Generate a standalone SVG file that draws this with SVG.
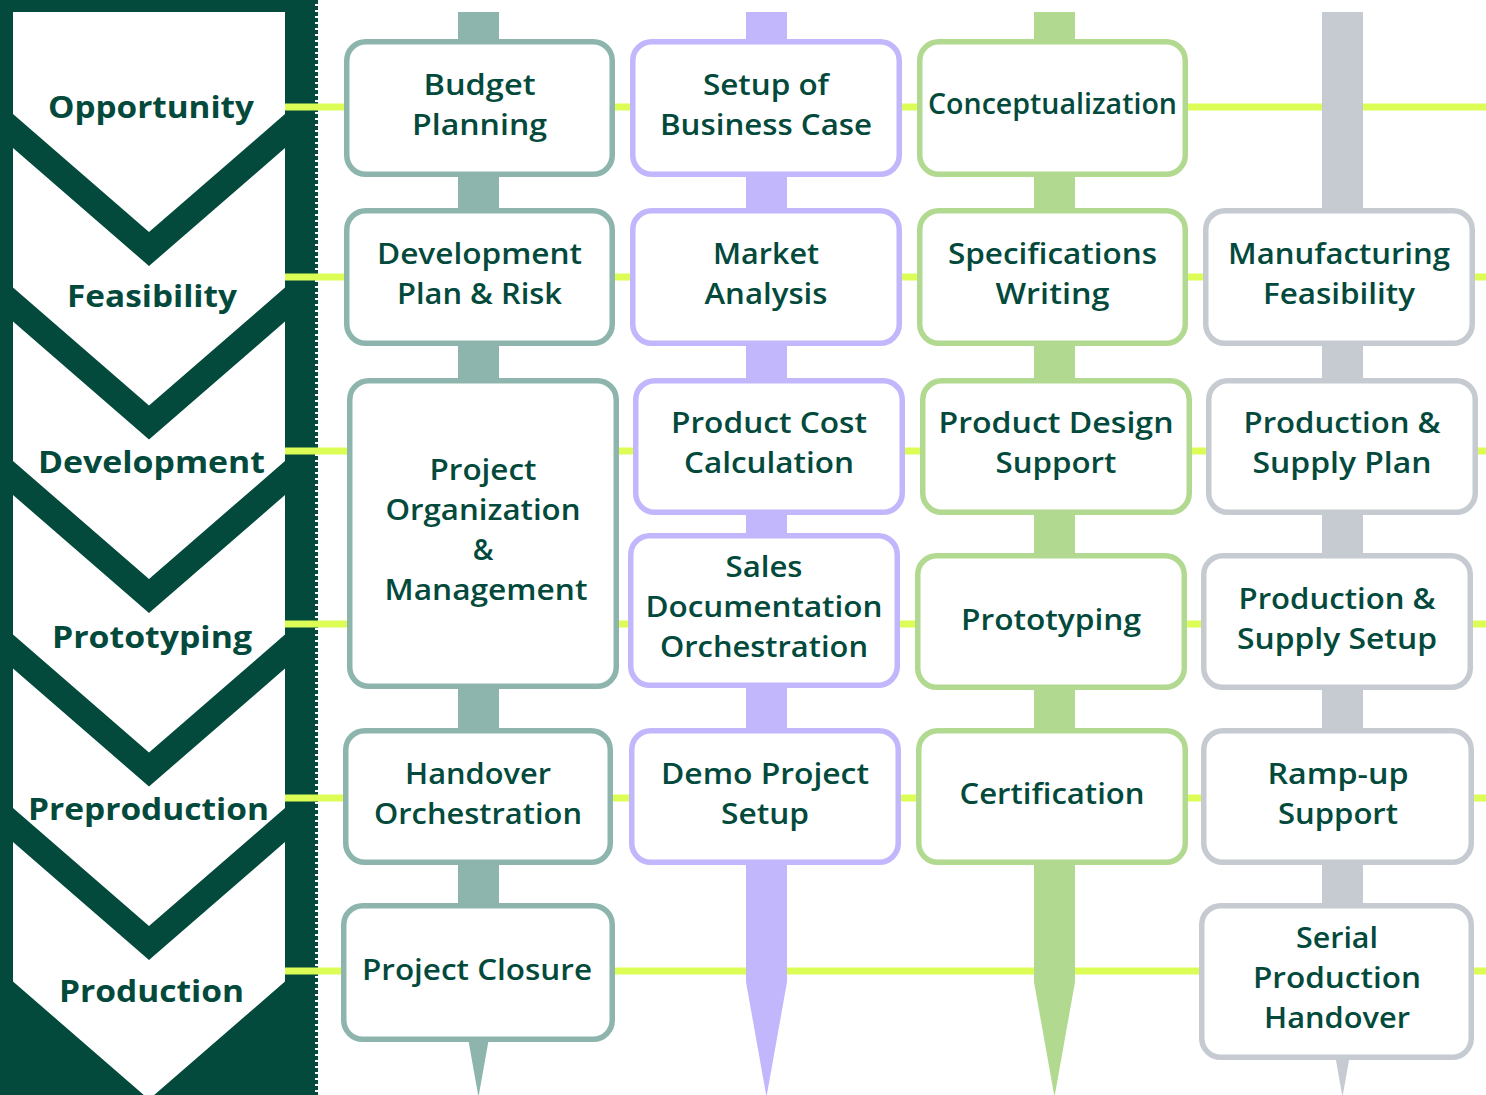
<svg xmlns="http://www.w3.org/2000/svg" width="1486" height="1095" viewBox="0 0 1486 1095">
<style>
.panel{fill:#034a3c}
.chev{fill:#ffffff}
.lbl{font-family:"Open Sans","Liberation Sans",sans-serif;font-weight:700;font-size:30px;fill:#034a3c;text-anchor:middle}
.t{font-family:"Open Sans","Liberation Sans",sans-serif;font-weight:600;font-size:28px;fill:#034a3c;text-anchor:middle}
.row{stroke:#dcfd55;stroke-width:7;fill:none}
.box{fill:#ffffff;stroke-width:5.5}
.c1{fill:#8db5ad}.c2{fill:#c2b7fc}.c3{fill:#b1d98f}.c4{fill:#c6cbd2}
.s1{stroke:#8db5ad}.s2{stroke:#c2b7fc}.s3{stroke:#b1d98f}.s4{stroke:#c6cbd2}
</style>
<rect width="1486" height="1095" fill="#ffffff"/>
<g id="phases">
<rect class="panel" x="0" y="0" width="315" height="1095"/>
<line x1="316.5" y1="0" x2="316.5" y2="1095" stroke="#034a3c" stroke-width="3" stroke-dasharray="4 2"/>
<polygon class="chev" points="13,12 285,12 285,114 149,232 13,114"/>
<polygon class="chev" points="13,148 149,266 285,148 285,287.5 149,405.5 13,287.5"/>
<polygon class="chev" points="13,321.5 149,439.5 285,321.5 285,461 149,579 13,461"/>
<polygon class="chev" points="13,495 149,613 285,495 285,634.5 149,752.5 13,634.5"/>
<polygon class="chev" points="13,668.5 149,786.5 285,668.5 285,808 149,926 13,808"/>
<polygon class="chev" points="13,842 149,960 285,842 285,981.5 149,1099.5 13,981.5"/>
<text class="lbl" x="151" y="118" textLength="206" lengthAdjust="spacingAndGlyphs">Opportunity</text>
<text class="lbl" x="152" y="307" textLength="170" lengthAdjust="spacingAndGlyphs">Feasibility</text>
<text class="lbl" x="151.5" y="473" textLength="227" lengthAdjust="spacingAndGlyphs">Development</text>
<text class="lbl" x="152" y="648" textLength="200" lengthAdjust="spacingAndGlyphs">Prototyping</text>
<text class="lbl" x="148.5" y="820" textLength="241" lengthAdjust="spacingAndGlyphs">Preproduction</text>
<text class="lbl" x="151.5" y="1002" textLength="185" lengthAdjust="spacingAndGlyphs">Production</text>
</g>
<g id="connectors">
<line class="row" x1="285" y1="107" x2="1486" y2="107"/>
<line class="row" x1="285" y1="277" x2="1486" y2="277"/>
<line class="row" x1="285" y1="451" x2="1486" y2="451"/>
<line class="row" x1="285" y1="624" x2="1486" y2="624"/>
<line class="row" x1="285" y1="798" x2="1486" y2="798"/>
<line class="row" x1="285" y1="971" x2="1486" y2="971"/>
<polygon class="c1" points="458,12 499,12 499,982 478.5,1097 458,982"/>
<polygon class="c2" points="746,12 787,12 787,982 766.5,1097 746,982"/>
<polygon class="c3" points="1034,12 1075,12 1075,982 1054.5,1097 1034,982"/>
<polygon class="c4" points="1322,12 1363,12 1363,982 1342.5,1097 1322,982"/>
</g>
<g id="budget-planning"><rect class="box s1" x="346.75" y="41.75" width="265.5" height="132.5" rx="19"/>
<text class="t" x="479.5" y="95" textLength="112" lengthAdjust="spacingAndGlyphs">Budget</text>
<text class="t" x="479.5" y="135" textLength="135" lengthAdjust="spacingAndGlyphs">Planning</text></g>
<g id="development-plan"><rect class="box s1" x="346.75" y="210.75" width="265.5" height="132.5" rx="19"/>
<text class="t" x="479.5" y="264" textLength="205" lengthAdjust="spacingAndGlyphs">Development</text>
<text class="t" x="479.5" y="304" textLength="165" lengthAdjust="spacingAndGlyphs">Plan &amp; Risk</text></g>
<g id="project-organization"><rect class="box s1" x="349.75" y="380.75" width="266.5" height="305.5" rx="19"/>
<text class="t" x="483" y="480" textLength="107" lengthAdjust="spacingAndGlyphs">Project</text>
<text class="t" x="483" y="520" textLength="195" lengthAdjust="spacingAndGlyphs">Organization</text>
<text class="t" x="483" y="560">&amp;</text>
<text class="t" x="486" y="600" textLength="203" lengthAdjust="spacingAndGlyphs">Management</text></g>
<g id="handover-orchestration"><rect class="box s1" x="345.75" y="730.75" width="264.5" height="131.5" rx="19"/>
<text class="t" x="478" y="784" textLength="146" lengthAdjust="spacingAndGlyphs">Handover</text>
<text class="t" x="478" y="824" textLength="208" lengthAdjust="spacingAndGlyphs">Orchestration</text></g>
<g id="project-closure"><rect class="box s1" x="343.75" y="905.75" width="268.5" height="133.5" rx="19"/>
<text class="t" x="477" y="980" textLength="230" lengthAdjust="spacingAndGlyphs">Project Closure</text></g>
<g id="business-case"><rect class="box s2" x="632.75" y="41.75" width="266.5" height="132.5" rx="19"/>
<text class="t" x="766" y="95" textLength="126" lengthAdjust="spacingAndGlyphs">Setup of</text>
<text class="t" x="766" y="135" textLength="212" lengthAdjust="spacingAndGlyphs">Business Case</text></g>
<g id="market-analysis"><rect class="box s2" x="632.75" y="210.75" width="266.5" height="132.5" rx="19"/>
<text class="t" x="766" y="264" textLength="106" lengthAdjust="spacingAndGlyphs">Market</text>
<text class="t" x="766" y="304" textLength="123" lengthAdjust="spacingAndGlyphs">Analysis</text></g>
<g id="product-cost"><rect class="box s2" x="635.75" y="380.75" width="266.5" height="131.5" rx="19"/>
<text class="t" x="769" y="433" textLength="196" lengthAdjust="spacingAndGlyphs">Product Cost</text>
<text class="t" x="769" y="473" textLength="170" lengthAdjust="spacingAndGlyphs">Calculation</text></g>
<g id="sales-documentation"><rect class="box s2" x="630.75" y="535.75" width="266.5" height="149.5" rx="19"/>
<text class="t" x="764" y="577" textLength="77" lengthAdjust="spacingAndGlyphs">Sales</text>
<text class="t" x="764" y="617" textLength="237" lengthAdjust="spacingAndGlyphs">Documentation</text>
<text class="t" x="764" y="657" textLength="208" lengthAdjust="spacingAndGlyphs">Orchestration</text></g>
<g id="demo-project"><rect class="box s2" x="631.75" y="730.75" width="266.5" height="131.5" rx="19"/>
<text class="t" x="765" y="784" textLength="208" lengthAdjust="spacingAndGlyphs">Demo Project</text>
<text class="t" x="765" y="824" textLength="88" lengthAdjust="spacingAndGlyphs">Setup</text></g>
<g id="conceptualization"><rect class="box s3" x="919.75" y="41.75" width="265.5" height="132.5" rx="19"/>
<text class="t" x="1052.5" y="114" textLength="249" lengthAdjust="spacingAndGlyphs">Conceptualization</text></g>
<g id="specifications-writing"><rect class="box s3" x="919.75" y="210.75" width="265.5" height="132.5" rx="19"/>
<text class="t" x="1052.5" y="264" textLength="209" lengthAdjust="spacingAndGlyphs">Specifications</text>
<text class="t" x="1052.5" y="304" textLength="114" lengthAdjust="spacingAndGlyphs">Writing</text></g>
<g id="product-design"><rect class="box s3" x="922.75" y="380.75" width="266.5" height="131.5" rx="19"/>
<text class="t" x="1056" y="433" textLength="235" lengthAdjust="spacingAndGlyphs">Product Design</text>
<text class="t" x="1056" y="473" textLength="121" lengthAdjust="spacingAndGlyphs">Support</text></g>
<g id="prototyping"><rect class="box s3" x="917.75" y="555.75" width="266.5" height="131.5" rx="19"/>
<text class="t" x="1051" y="630" textLength="180" lengthAdjust="spacingAndGlyphs">Prototyping</text></g>
<g id="certification"><rect class="box s3" x="918.75" y="730.75" width="266.5" height="131.5" rx="19"/>
<text class="t" x="1052" y="804" textLength="185" lengthAdjust="spacingAndGlyphs">Certification</text></g>
<g id="manufacturing-feasibility"><rect class="box s4" x="1205.75" y="210.75" width="266.5" height="132.5" rx="19"/>
<text class="t" x="1339" y="264" textLength="222" lengthAdjust="spacingAndGlyphs">Manufacturing</text>
<text class="t" x="1339" y="304" textLength="152" lengthAdjust="spacingAndGlyphs">Feasibility</text></g>
<g id="supply-plan"><rect class="box s4" x="1208.75" y="380.75" width="266.5" height="131.5" rx="19"/>
<text class="t" x="1342" y="433" textLength="197" lengthAdjust="spacingAndGlyphs">Production &amp;</text>
<text class="t" x="1342" y="473" textLength="179" lengthAdjust="spacingAndGlyphs">Supply Plan</text></g>
<g id="supply-setup"><rect class="box s4" x="1203.75" y="555.75" width="266.5" height="131.5" rx="19"/>
<text class="t" x="1337" y="609" textLength="197" lengthAdjust="spacingAndGlyphs">Production &amp;</text>
<text class="t" x="1337" y="649" textLength="200" lengthAdjust="spacingAndGlyphs">Supply Setup</text></g>
<g id="ramp-up"><rect class="box s4" x="1203.75" y="730.75" width="267.5" height="131.5" rx="19"/>
<text class="t" x="1338" y="784" textLength="141" lengthAdjust="spacingAndGlyphs">Ramp-up</text>
<text class="t" x="1338" y="824" textLength="120" lengthAdjust="spacingAndGlyphs">Support</text></g>
<g id="serial-production"><rect class="box s4" x="1201.75" y="905.75" width="269.5" height="151.5" rx="19"/>
<text class="t" x="1337" y="948" textLength="82" lengthAdjust="spacingAndGlyphs">Serial</text>
<text class="t" x="1337" y="988" textLength="168" lengthAdjust="spacingAndGlyphs">Production</text>
<text class="t" x="1337" y="1028" textLength="146" lengthAdjust="spacingAndGlyphs">Handover</text></g>
</svg>
